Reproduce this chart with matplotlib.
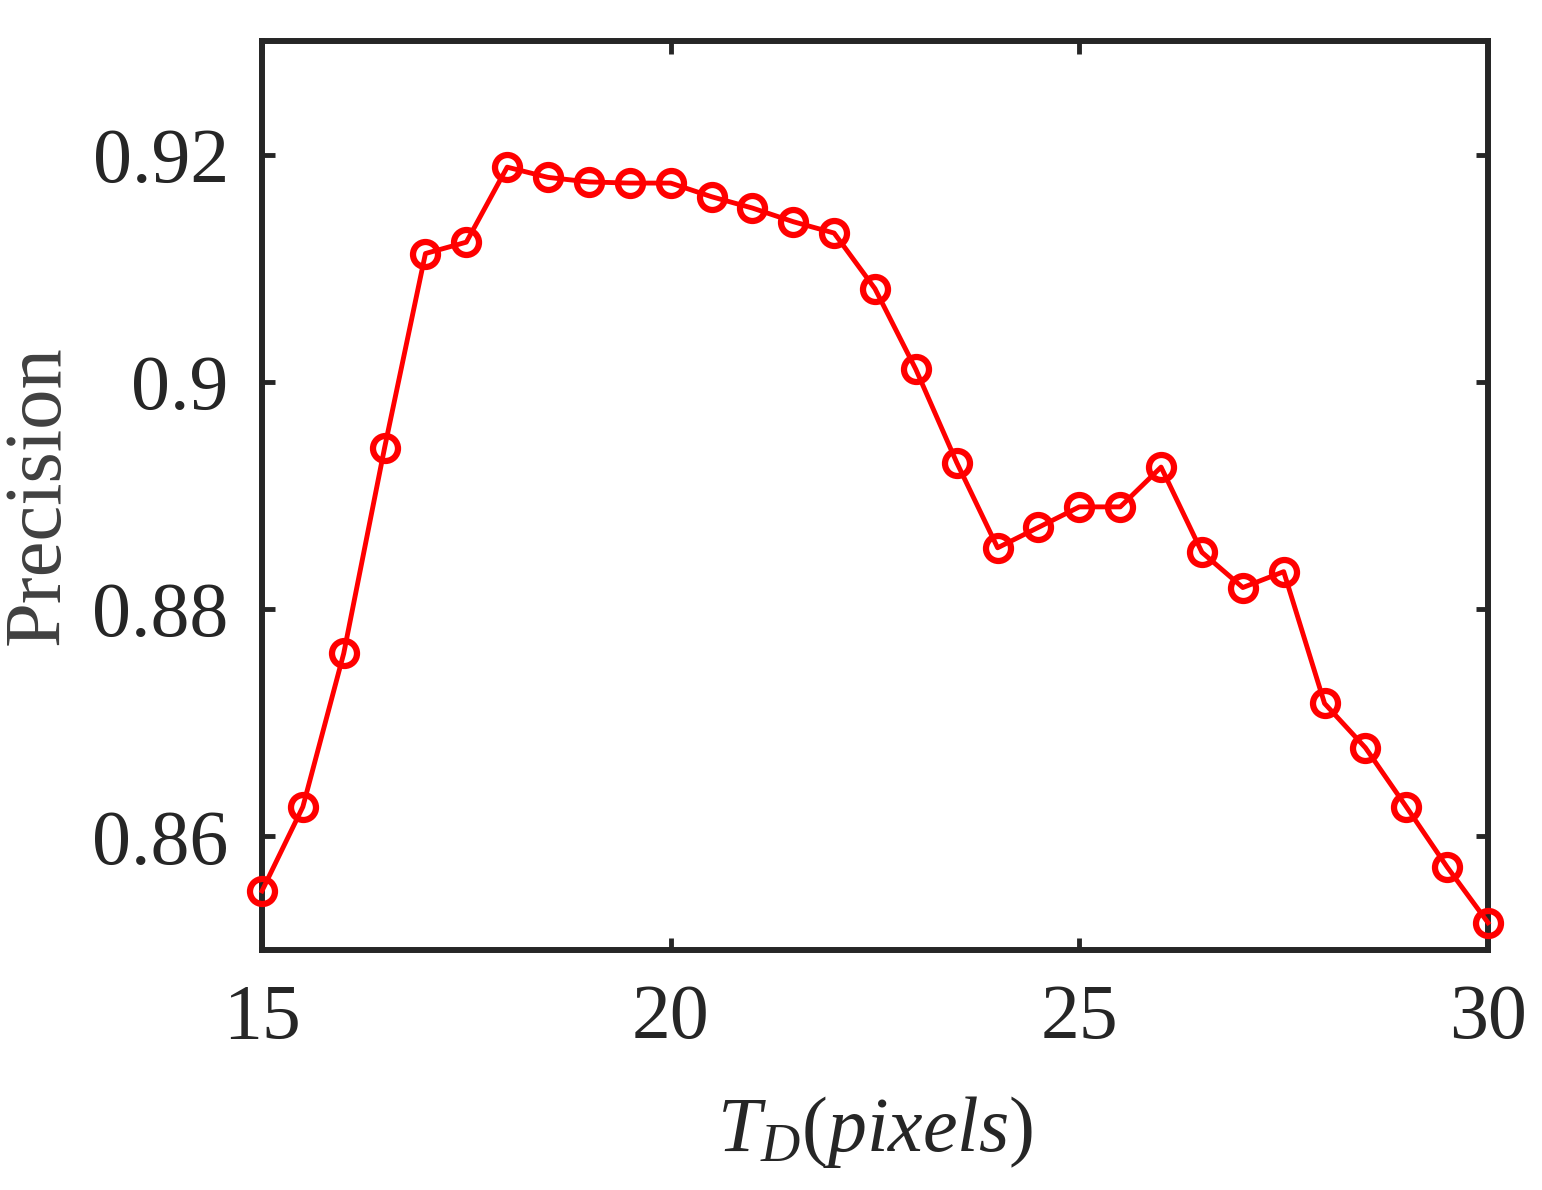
import matplotlib
matplotlib.use("Agg")
import matplotlib.pyplot as plt

td = [15, 15.5, 16, 16.5, 17, 17.5, 18, 18.5, 19, 19.5, 20, 20.5, 21, 21.5, 22,
      22.5, 23, 23.5, 24, 24.5, 25, 25.5, 26, 26.5, 27, 27.5, 28, 28.5, 29, 29.5, 30]
precision = [0.8552, 0.8626, 0.8761, 0.8942, 0.9113, 0.9123, 0.9189, 0.9180, 0.9176,
             0.9175, 0.9175, 0.9163, 0.9153, 0.9141, 0.9131, 0.9082, 0.9011, 0.8929,
             0.8854, 0.8872, 0.8890, 0.8890, 0.8925, 0.8850, 0.8819, 0.8833, 0.8717,
             0.8678, 0.8626, 0.8573, 0.8524]
xticks = [15, 20, 25, 30]
yticks = [0.86, 0.88, 0.90, 0.92]
yticklabels = ["0.86", "0.88", "0.9", "0.92"]

plt.rcParams['font.family'] = ['Liberation Serif', 'DejaVu Serif']
plt.rcParams['mathtext.fontset'] = 'custom'
plt.rcParams['mathtext.rm'] = 'Liberation Serif'
plt.rcParams['mathtext.it'] = 'Liberation Serif:italic'

fig = plt.figure(figsize=(15.42, 11.90), dpi=100)
ax = fig.add_axes([0.1699, 0.2017, 0.7951, 0.7638])
ax.plot(td, precision, color='#ff0000', lw=3.5, marker='o', markersize=18,
        markerfacecolor='none', markeredgewidth=4.5, markeredgecolor='#ff0000',
        clip_on=False, zorder=3)
ax.set_xlim(15, 30)
ax.set_ylim(0.85, 0.93)
ax.set_xticks(xticks)
ax.set_xticklabels([str(v) for v in xticks])
ax.set_yticks(yticks)
ax.set_yticklabels(yticklabels)
ax.tick_params(direction='in', length=9, width=3.5, top=True, right=True,
               labelsize=56, colors='#262626', pad=24)
for s in ax.spines.values():
    s.set_linewidth(4.3)
    s.set_color('#262626')
ax.set_xlabel(r'$T_D(pixels)$', fontsize=56, color='#262626', labelpad=28)
ax.set_ylabel('Precision', fontsize=58, color='#404040', labelpad=12)
fig.savefig('out.png', dpi=100)
